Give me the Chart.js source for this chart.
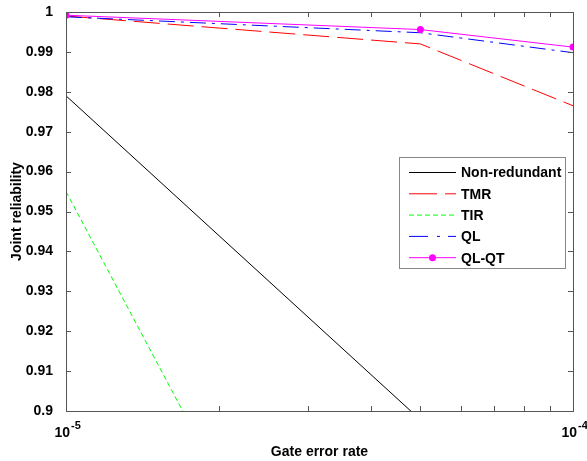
<!DOCTYPE html>
<html>
<head>
<meta charset="utf-8">
<script src="https://cdn.jsdelivr.net/npm/chart.js@4/dist/chart.umd.min.js"></script>
<style>
  body { margin: 0; background: #fff; }
</style>
</head>
<body>
<canvas id="reliabilityChart" width="587" height="461"></canvas>
<script>
// data
const gateErrorRates = [1e-5, 5e-5, 1e-4];
const nonRedundant = [0.979, 0.8978, 0.863];
const tmr = [0.999, 0.992, 0.9765];
const tir = [0.955, 0.788, 0.70];
const ql = [0.9988, 0.9948, 0.9898];
const qlQt = [0.9992, 0.9956, 0.9912];

const yTickValues = [0.9, 0.91, 0.92, 0.93, 0.94, 0.95, 0.96, 0.97, 0.98, 0.99, 1];
const xTickValues = [1e-5, 2e-5, 3e-5, 4e-5, 5e-5, 6e-5, 7e-5, 8e-5, 9e-5, 1e-4];
// decade labels, drawn as 10 with a raised exponent
const xDecades = [1e-5, 1e-4];
const xExponents = ['-5', '-4'];

const FAMILY = '"Liberation Sans", Arial, sans-serif';
const FONT = { family: FAMILY, size: 14, weight: 'bold' };

function toPoints(values) {
    return gateErrorRates.map((x, i) => ({ x: x, y: values[i] }));
}

// box round the plot with ticks pointing inwards, like the original figure
const framePlugin = {
    id: 'frame',
    afterDatasetsDraw(chart) {
        const ctx = chart.ctx;
        const area = chart.chartArea;
        const xs = chart.scales.x;
        const ys = chart.scales.y;
        const len = 5;
        ctx.save();
        ctx.strokeStyle = '#555';
        ctx.lineWidth = 1;
        ctx.beginPath();
        xTickValues.forEach(v => {
            const px = Math.round(xs.getPixelForValue(v)) + 0.5;
            ctx.moveTo(px, area.bottom);
            ctx.lineTo(px, area.bottom - len);
            ctx.moveTo(px, area.top);
            ctx.lineTo(px, area.top + len);
        });
        yTickValues.forEach(v => {
            const py = Math.round(ys.getPixelForValue(v)) + 0.5;
            ctx.moveTo(area.left, py);
            ctx.lineTo(area.left + len, py);
            ctx.moveTo(area.right, py);
            ctx.lineTo(area.right - len, py);
        });
        ctx.stroke();
        ctx.strokeRect(Math.round(area.left) + 0.5, Math.round(area.top) + 0.5,
            Math.round(area.right - area.left), Math.round(area.bottom - area.top));

        // x labels 10^-5 and 10^-4
        ctx.fillStyle = '#000';
        ctx.textBaseline = 'alphabetic';
        xDecades.forEach((v, i) => {
            const px = xs.getPixelForValue(v);
            ctx.font = 'bold 14px ' + FAMILY;
            ctx.textAlign = 'right';
            ctx.fillText('10', px + 4, 437);
            ctx.font = 'bold 11px ' + FAMILY;
            ctx.textAlign = 'left';
            ctx.fillText(xExponents[i], px + 5, 429);
        });
        ctx.restore();
    }
};

const legendPlugin = {
    id: 'insideLegend',
    afterDraw(chart) {
        const ctx = chart.ctx;
        const box = { x: 399.5, y: 157.5, w: 166, h: 111 };
        ctx.save();
        ctx.fillStyle = '#fff';
        ctx.fillRect(box.x, box.y, box.w, box.h);
        ctx.strokeStyle = '#888';
        ctx.lineWidth = 1;
        ctx.strokeRect(box.x, box.y, box.w, box.h);
        ctx.font = FONT.weight + ' ' + FONT.size + 'px ' + FONT.family;
        ctx.textBaseline = 'middle';
        chart.data.datasets.forEach((ds, i) => {
            const y = 172.5 + i * 21.3;
            ctx.strokeStyle = ds.borderColor;
            ctx.setLineDash(ds.legendDash || ds.borderDash || []);
            ctx.beginPath();
            ctx.moveTo(409, y);
            ctx.lineTo(456, y);
            ctx.stroke();
            ctx.setLineDash([]);
            if (ds.pointRadius > 0) {
                ctx.fillStyle = ds.pointBackgroundColor;
                ctx.beginPath();
                ctx.arc(432.5, y, ds.pointRadius, 0, Math.PI * 2);
                ctx.fill();
            }
            ctx.fillStyle = '#000';
            ctx.fillText(ds.label, 461, y + 1);
        });
        ctx.restore();
    }
};

const ctx = document.getElementById('reliabilityChart').getContext('2d');
const reliabilityChart = new Chart(ctx, {
    type: 'line',
    data: {
        datasets: [
            { label: 'Non-redundant', data: toPoints(nonRedundant), borderColor: '#000000', borderWidth: 1, pointRadius: 0, order: 5 },
            { label: 'TMR', data: toPoints(tmr), borderColor: '#ff0000', borderWidth: 1, borderDash: [26, 8], legendDash: [28, 8], pointRadius: 0, order: 4 },
            { label: 'TIR', data: toPoints(tir), borderColor: '#00ff00', borderWidth: 1, borderDash: [5, 3], pointRadius: 0, order: 3 },
            { label: 'QL', data: toPoints(ql), borderColor: '#0000ff', borderWidth: 1, borderDash: [16, 6, 3, 6], legendDash: [19, 9, 3, 8], pointRadius: 0, order: 2 },
            { label: 'QL-QT', data: toPoints(qlQt), borderColor: '#ff00ff', borderWidth: 1, pointRadius: 3.5, pointBackgroundColor: '#ff00ff', pointBorderWidth: 0, order: 1 }
        ]
    },
    options: {
        responsive: false,
        animation: false,
        events: [],
        layout: { padding: { top: 12, right: 14, left: 0, bottom: 0 } },
        plugins: { legend: { display: false }, tooltip: { enabled: false } },
        scales: {
            x: {
                type: 'logarithmic',
                min: 1e-5,
                max: 1e-4,
                grid: { display: false },
                border: { display: false },
                afterBuildTicks: scale => { scale.ticks = xTickValues.map(v => ({ value: v })); },
                afterFit: scale => { scale.height = 50; scale.paddingLeft = 0; scale.paddingRight = 0; },
                ticks: { display: false },
                title: { display: true, text: 'Gate error rate', color: '#000', font: FONT, padding: { top: 5, bottom: 0 } }
            },
            y: {
                min: 0.9,
                max: 1,
                grid: { display: false },
                border: { display: false },
                afterBuildTicks: scale => { scale.ticks = yTickValues.map(v => ({ value: v })); },
                afterFit: scale => { scale.width = 66; scale.paddingTop = 0; scale.paddingBottom = 0; },
                ticks: {
                    padding: 5,
                    color: '#000',
                    font: FONT,
                    callback: value => String(+value.toFixed(2))
                },
                title: { display: true, text: 'Joint reliability', color: '#000', font: FONT, padding: { top: 9, bottom: 0 } }
            }
        }
    },
    plugins: [framePlugin, legendPlugin]
});
</script>
</body>
</html>
